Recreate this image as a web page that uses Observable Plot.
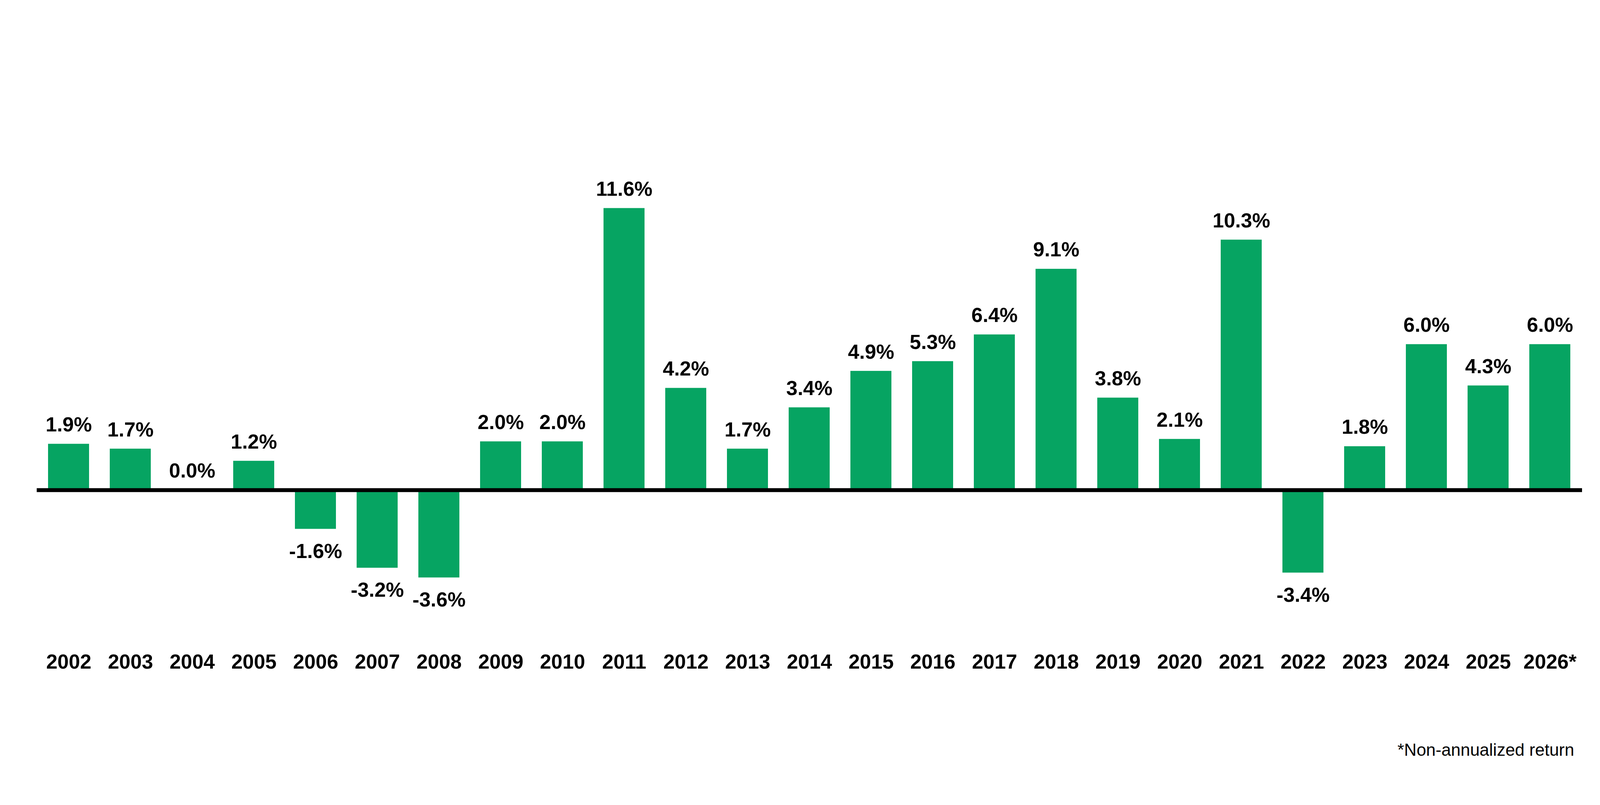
<!DOCTYPE html>
<html>
<head>
<meta charset="utf-8">
<script src="https://cdn.jsdelivr.net/npm/d3@7"></script>
<script src="https://cdn.jsdelivr.net/npm/@observablehq/plot@0.6"></script>
<style>
  html, body { margin: 0; padding: 0; background: #fff; height: 2060px; overflow: hidden; }
  #chart svg { display: block; }
  #note { font-family: "Liberation Sans", Arial, sans-serif; font-size: 44px; line-height: 44px; color: #000; text-align: right; margin-top: 7px; white-space: nowrap; }
</style>
</head>
<body>
<div id="chart"></div>
<div id="note">*Non-annualized return</div>
<script>
const years = ["2002","2003","2004","2005","2006","2007","2008","2009","2010","2011","2012","2013","2014","2015","2016","2017","2018","2019","2020","2021","2022","2023","2024","2025","2026*"];
const returns = [1.9,1.7,0.0,1.2,-1.6,-3.2,-3.6,2.0,2.0,11.6,4.2,1.7,3.4,4.9,5.3,6.4,9.1,3.8,2.1,10.3,-3.4,1.8,6.0,4.3,6.0];
const valueLabels = ["1.9%","1.7%","0.0%","1.2%","-1.6%","-3.2%","-3.6%","2.0%","2.0%","11.6%","4.2%","1.7%","3.4%","4.9%","5.3%","6.4%","9.1%","3.8%","2.1%","10.3%","-3.4%","1.8%","6.0%","4.3%","6.0%"];

const data = years.map((y, i) => ({year: y, value: returns[i], label: valueLabels[i]}));
const pos = data.filter(d => d.value >= 0);
const neg = data.filter(d => d.value < 0);

// The browser viewport may be narrower than the requested 5563px; lay out horizontally to fit it.
const W = Math.min(window.innerWidth || 5563, 5563);
const k = W / 5563;
document.getElementById("note").style.paddingRight = Math.round(89 * k) + "px";

const font = "'Liberation Sans', Arial, sans-serif";

const chart = Plot.plot({
  width: W,
  height: 1890,
  marginLeft: Math.round(127 * k),
  marginRight: Math.round(63 * k),
  marginTop: 10,
  marginBottom: 263,
  style: {fontFamily: font, background: "#fff"},
  x: {type: "band", domain: years, paddingInner: 0.333, paddingOuter: 0.1667, label: null},
  y: {domain: [-6, 20], axis: null},
  marks: [
    Plot.barY(data, {x: "year", y: "value", fill: "#06a462"}),
    Plot.ruleY([0], {stroke: "#000", strokeWidth: 10}),
    Plot.text(pos, {x: "year", y: "value", text: "label", lineAnchor: "bottom", dy: -32, fontSize: 52, fontWeight: "bold", fill: "#000"}),
    Plot.text(neg, {x: "year", y: "value", text: "label", lineAnchor: "top", dy: 37, fontSize: 52, fontWeight: "bold", fill: "#000"}),
    Plot.axisX({tickSize: 0, tickPadding: 47, fontSize: 52, fontWeight: "bold", fill: "#000", label: null})
  ]
});
document.getElementById("chart").appendChild(chart);
</script>
</body>
</html>
